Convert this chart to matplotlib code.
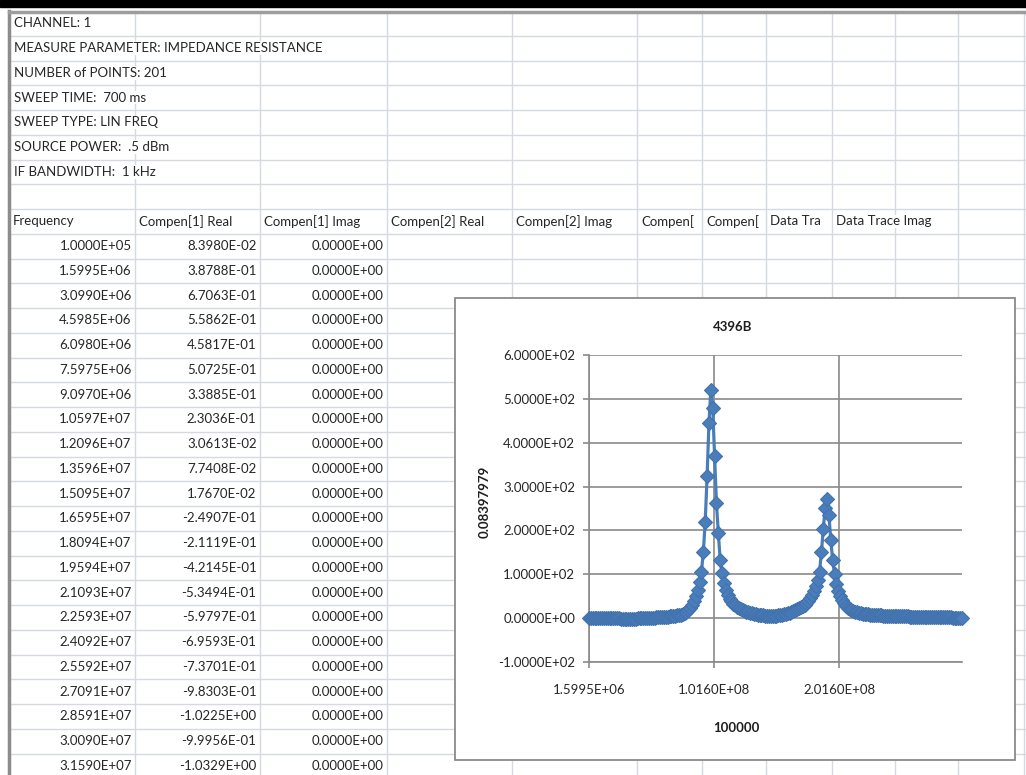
import numpy as np
import matplotlib
matplotlib.use("Agg")
import matplotlib.pyplot as plt
from matplotlib.patches import Rectangle

# sheet header block
info_lines = ["CHANNEL: 1",
              "MEASURE PARAMETER: IMPEDANCE RESISTANCE",
              "NUMBER of POINTS: 201",
              "SWEEP TIME:  700 ms",
              "SWEEP TYPE: LIN FREQ",
              "SOURCE POWER:  .5 dBm",
              "IF BANDWIDTH:  1 kHz"]
col_headers = ["Frequency", "Compen[1] Real", "Compen[1] Imag", "Compen[2] Real",
               "Compen[2] Imag", "Compen[", "Compen[", "Data Tra", "Data Trace Imag"]

# visible table rows
freq_col = [1.0000e5, 1.5995e6, 3.0990e6, 4.5985e6, 6.0980e6, 7.5975e6, 9.0970e6,
            1.0597e7, 1.2096e7, 1.3596e7, 1.5095e7, 1.6595e7, 1.8094e7, 1.9594e7,
            2.1093e7, 2.2593e7, 2.4092e7, 2.5592e7, 2.7091e7, 2.8591e7, 3.0090e7, 3.1590e7]
real_col = [8.3980e-2, 3.8788e-1, 6.7063e-1, 5.5862e-1, 4.5817e-1, 5.0725e-1, 3.3885e-1,
            2.3036e-1, 3.0613e-2, 7.7408e-2, 1.7670e-2, -2.4907e-1, -2.1119e-1, -4.2145e-1,
            -5.3494e-1, -5.9797e-1, -6.9593e-1, -7.3701e-1, -9.8303e-1, -1.0225, -9.9956e-1,
            -1.0329]
imag_col = [0.0] * 22

# rest of the trace, points 22..200
real_rest = [-1.05, -1.08, -1.02, -0.95, -0.83, -0.68, -0.50, -0.30, -0.08, 0.15,
             0.40, 0.65, 0.90, 1.15, 1.40, 1.70, 2.00, 2.30, 2.60, 2.90,
             3.2, 3.6, 4.0, 4.5, 5.0, 5.6, 6.3, 7.1, 8.1, 9.3,
             11, 15, 19, 24, 31, 40, 51, 65, 83, 106,
             151, 220, 323, 445, 521, 479, 370, 262, 194, 132,
             103, 80, 64, 53, 44, 38, 33, 29, 26, 23,
             21, 19, 17, 15, 13, 12, 11, 10, 9, 8,
             7.5, 7, 6.5, 6, 5.5, 5, 5, 5, 5.5, 6,
             6.5, 7, 8, 9, 10, 11, 12, 14, 16, 18,
             20, 22, 25, 28, 31, 35, 40, 46, 53, 62,
             73, 88, 106, 150, 203, 252, 272, 236, 178, 133,
             100, 78, 62, 50, 41, 34, 28, 24, 21, 18,
             16, 14, 13, 12, 11, 10, 9.5, 9, 8.5, 8,
             7.6, 7.3, 7.0, 6.7, 6.4, 6.1, 5.9, 5.7, 5.5, 5.3,
             5.1, 4.9, 4.7, 4.6, 4.4, 4.3, 4.1, 4.0, 3.9, 3.8,
             3.7, 3.6, 3.5, 3.4, 3.3, 3.2, 3.1, 3.0, 2.9, 2.8,
             2.7, 2.6, 2.5, 2.4, 2.3, 2.2, 2.1, 2.0, 1.9, 1.8,
             1.7, 1.6, 1.5, 1.4, 1.3, 1.2, 1.1, 1.0, 0.9]

# LIN FREQ sweep
f_start = 1.0e5
f_stop = 3.0e8
n_points = 201

chart_title = "4396B"
x_title = "100000"
y_title = "0.08397979"
x_ticks = [1.5995e6, 1.0160e8, 2.0160e8]
y_ticks = [-100, 0, 100, 200, 300, 400, 500, 600]

W, H = 1026, 775
FONT = "Lato"
TXT = "#262626"
col_edges = [9, 135, 260, 387, 512, 637, 702, 766, 832, 895, 958, 1024]
row_top = 11
row_h = 24.75


def row_center(r):
    return row_top + (r - 0.5) * row_h


def main():
    fig = plt.figure(figsize=(W / 100, H / 100), dpi=100)
    sh = fig.add_axes([0, 0, 1, 1])
    sh.set_xlim(0, W)
    sh.set_ylim(H, 0)
    sh.axis("off")

    # grid
    for k in range(1, 32):
        y = row_top + k * row_h
        sh.plot([9, W], [y, y], color="#d5d9e2", lw=1, zorder=1)
    for x in col_edges[1:]:
        sh.plot([x, x], [row_top, H], color="#d5d9e2", lw=1, zorder=1)
    sh.plot([9, 9], [row_top, H], color="#8c8c8c", lw=2.5, zorder=2)
    sh.plot([9, W], [row_top + 1, row_top + 1], color="#9d9d9d", lw=2.5, zorder=2)
    sh.add_patch(Rectangle((0, 0), W, 7, color="black", zorder=3))

    for i, s in enumerate(info_lines):
        sh.text(14, row_center(i + 1), s, fontsize=9.5, family=FONT, color=TXT,
                va="center", ha="left", zorder=3,
                bbox=dict(facecolor="white", edgecolor="none", pad=0.5))
    for j, s in enumerate(col_headers):
        sh.text(col_edges[j] + 4, row_center(9), s, fontsize=9.5, family=FONT, color=TXT,
                va="center", ha="left", zorder=3,
                bbox=dict(facecolor="white", edgecolor="none", pad=0.5))
    for i in range(len(freq_col)):
        yc = row_center(10 + i)
        for j, col in enumerate([freq_col, real_col, imag_col]):
            sh.text(col_edges[j + 1] - 3.5, yc, "%.4E" % col[i], fontsize=9.5, family=FONT,
                    color=TXT, va="center", ha="right", zorder=3)

    # chart object
    sh.add_patch(Rectangle((455, 298), 560, 462, facecolor="white", edgecolor="#8a8a8a",
                           lw=1.3, zorder=5))
    sh.text(733, 327, chart_title, fontsize=9.5, family=FONT, weight="bold", color="#1e1e1e",
            ha="center", va="center", zorder=6)
    sh.text(736, 728, x_title, fontsize=9.5, family=FONT, weight="bold", color="#1e1e1e",
            ha="center", va="center", zorder=6)
    sh.text(485, 502, y_title, fontsize=9.5, family=FONT, weight="bold", color="#1e1e1e",
            ha="center", va="center", rotation=90, zorder=6)

    x0, x1, y0, y1 = 589, 962, 355, 662
    ax = fig.add_axes([x0 / W, (H - y1) / H, (x1 - x0) / W, (y1 - y0) / H])
    ax.set_zorder(7)
    ax.patch.set_alpha(0)

    freq = np.linspace(f_start, f_stop, n_points)[1:]
    vals = np.array(real_col[1:] + real_rest)
    ax.plot(freq, vals, color="#4a7ebb", lw=2.3, marker="D", ms=7, mfc="#4a7ebb",
            mec="#4172ad", mew=0.8, clip_on=False, zorder=4)

    ax.set_xlim(1.5995e6, f_stop)
    ax.set_ylim(-100, 600)
    ax.set_xticks(x_ticks)
    ax.set_xticklabels(["%.4E" % v for v in x_ticks])
    ax.set_yticks(y_ticks)
    ax.set_yticklabels(["%.4E" % v for v in y_ticks])
    ax.grid(True, color="#8a8a8a", lw=1.2, zorder=0)
    ax.set_axisbelow(True)
    for s in ["top", "right"]:
        ax.spines[s].set_visible(False)
    for s in ["left", "bottom"]:
        ax.spines[s].set_color("#8a8a8a")
        ax.spines[s].set_linewidth(1.2)
    ax.tick_params(axis="y", direction="out", length=4, width=1.2, color="#8a8a8a", pad=6,
                   labelsize=9.5, labelcolor="#262626")
    ax.tick_params(axis="x", direction="out", length=4, width=1.2, color="#8a8a8a", pad=12,
                   labelsize=9.5, labelcolor="#262626")
    for lab in ax.get_xticklabels() + ax.get_yticklabels():
        lab.set_family(FONT)

    fig.savefig("out.png", dpi=100)


if __name__ == "__main__":
    main()
